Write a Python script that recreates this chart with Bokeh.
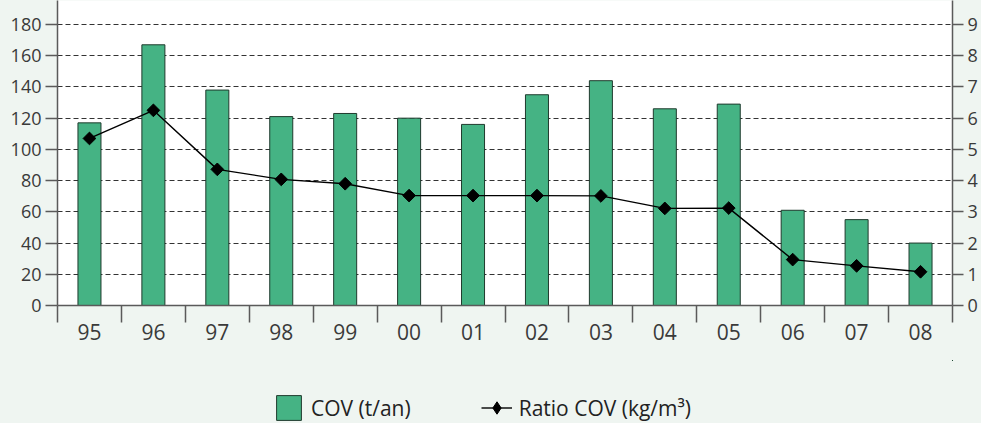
import math
from bokeh.plotting import figure
from bokeh.layouts import column
from bokeh.models import (LinearAxis, Range1d, FixedTicker, Legend, LegendItem,
                          ColumnDataSource)
from bokeh.embed import file_html
from bokeh.resources import INLINE

years = ["95", "96", "97", "98", "99", "00", "01", "02", "03", "04", "05", "06", "07", "08"]
cov = [117, 167, 138, 121, 123, 120, 116, 135, 144, 126, 129, 61, 55, 40]
ratio = [5.35, 6.25, 4.36, 4.04, 3.9, 3.52, 3.52, 3.52, 3.51, 3.11, 3.12, 1.47, 1.27, 1.08]
left_ticks = [0, 20, 40, 60, 80, 100, 120, 140, 160, 180]
right_ticks = [0, 1, 2, 3, 4, 5, 6, 7, 8, 9]
legend_labels = ["COV (t/an)", "Ratio COV (kg/m³)"]

FONT = "Open Sans"
TXT = "#3a3a3a"
AX = "#5a5a5a"
BG = "#eff5f1"
BAR_FILL = "#45b384"
BAR_LINE = "#1f3a2d"

xpos = [i + 0.5 for i in range(len(years))]
src = ColumnDataSource(dict(x=xpos, cov=cov, ratio=ratio))

ytop = 195.37
p = figure(width=981, height=360, output_backend="svg", toolbar_location=None,
           x_range=Range1d(0, len(years)), y_range=Range1d(0, ytop),
           min_border_left=57, min_border_right=29, min_border_top=0,
           min_border_bottom=55,
           background_fill_color="white", border_fill_color=BG,
           outline_line_color=None)
p.extra_y_ranges = {"ratio": Range1d(0, ytop / 20.0)}

bar_style = dict(fill_color=BAR_FILL, line_color=BAR_LINE, line_width=1)
line_style = dict(line_color="black", line_width=1.4)

p.vbar(x="x", top="cov", width=0.36, source=src, **bar_style)
p.line(x="x", y="ratio", source=src, y_range_name="ratio", **line_style)
p.scatter(x="x", y="ratio", source=src, y_range_name="ratio",
          marker="square", angle=math.pi / 4, size=9,
          fill_color="black", line_color="black")

# left axis
ya = p.yaxis[0]
ya.ticker = FixedTicker(ticks=left_ticks)
ya.major_tick_in = 0
ya.major_tick_out = 12
ya.major_label_standoff = 4

# right axis
ra = LinearAxis(y_range_name="ratio", ticker=FixedTicker(ticks=right_ticks))
ra.major_tick_in = 0
ra.major_tick_out = 11
ra.major_label_standoff = 4
p.add_layout(ra, "right")

# x axis
xa = p.xaxis[0]
xa.ticker = FixedTicker(ticks=xpos, minor_ticks=list(range(len(years) + 1)))
xa.major_label_overrides = {x: y for x, y in zip(xpos, years)}
xa.major_tick_in = 0
xa.major_tick_out = 0
xa.minor_tick_in = 0
xa.minor_tick_out = 17

for ax in (ya, ra, xa):
    ax.axis_line_color = AX
    ax.axis_line_width = 1.5
    ax.major_tick_line_color = AX if ax is not xa else None
    ax.major_tick_line_width = 1.5
    ax.minor_tick_line_color = AX if ax is xa else None
    ax.minor_tick_line_width = 1.5
    ax.major_label_text_font = FONT
    ax.major_label_text_font_size = "18px"
    ax.major_label_text_color = TXT
xa.major_label_text_font_size = "21px"
xa.major_label_standoff = 1

p.xgrid.grid_line_color = None
p.ygrid.ticker = FixedTicker(ticks=left_ticks[1:])
p.ygrid.grid_line_color = "#333333"
p.ygrid.grid_line_dash = "5 3"
p.ygrid.grid_line_width = 1

# legend strip (its frame is aligned with the chart's frame by the column)
lf = figure(width=981, height=63, output_backend="svg", toolbar_location=None,
            x_axis_type=None, y_axis_type=None,
            x_range=Range1d(-3, -2), y_range=Range1d(-3, -2),
            min_border=0, background_fill_color=BG, border_fill_color=BG,
            outline_line_color=None)
lf.grid.visible = False
lb = lf.vbar(x="x", top="cov", width=0.36, source=src, **bar_style)
ll = lf.line(x="x", y="ratio", source=src, **line_style)
lm = lf.scatter(x="x", y="ratio", source=src, marker="diamond", size=14,
                fill_color="black", line_color="black")

legend = Legend(items=[LegendItem(label=legend_labels[0], renderers=[lb]),
                       LegendItem(label=legend_labels[1], renderers=[ll, lm])],
                orientation="horizontal", location=(216, 0),
                background_fill_alpha=0, border_line_color=None,
                label_text_font=FONT, label_text_font_size="21px",
                label_text_color="#222222",
                glyph_width=31, glyph_height=31, label_standoff=7,
                spacing=70, padding=0, margin=0)
lf.add_layout(legend, "center")

layout = column(p, lf, spacing=0)
html = file_html(layout, INLINE)
html = html.replace("</head>", "<style>body{background:%s;}</style></head>" % BG, 1)
open("out.html", "w").write(html)
